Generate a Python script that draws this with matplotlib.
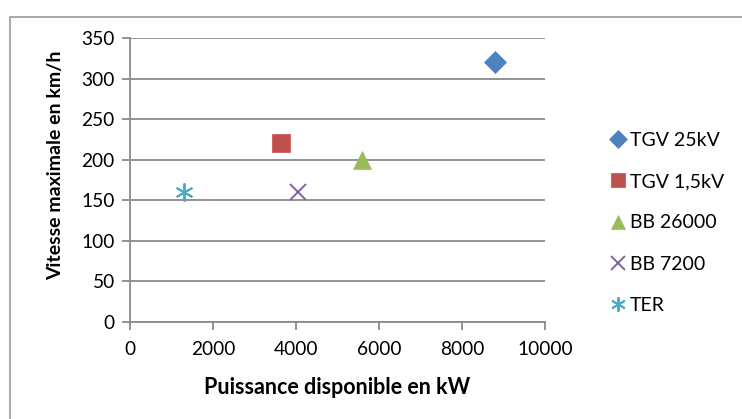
import matplotlib
matplotlib.use("Agg")
import matplotlib.pyplot as plt
from matplotlib.patches import Rectangle

series = ["TGV 25kV", "TGV 1,5kV", "BB 26000", "BB 7200", "TER"]
power_kw = [8800, 3650, 5600, 4050, 1300]
speed_kmh = [320, 220, 200, 160, 160]
colors = ["#4F81BD", "#C0504D", "#9BBB59", "#8064A2", "#4BACC6"]
markers = ["D", "s", "^", "x", (6, 2, 0)]
sizes = [11, 13, 13, 12, 13]
x_ticks = [0, 2000, 4000, 6000, 8000, 10000]
y_ticks = [0, 50, 100, 150, 200, 250, 300, 350]

plt.rcParams['font.family'] = ['Lato', 'DejaVu Sans']
W, H = 742, 419
fig = plt.figure(figsize=(W/100, H/100), dpi=100)
fig.patch.set_facecolor("white")

# outer chart border
fig.patches.append(Rectangle((10/W, -0.05), 1.2, 1 - 17/H + 0.05, transform=fig.transFigure,
                             fill=False, edgecolor="#9A9A9A", linewidth=1.2))

ax = fig.add_axes([130/W, 1 - 322/H, (545-130)/W, (322-38)/H])
for name, x, y, c, m, s in zip(series, power_kw, speed_kmh, colors, markers, sizes):
    line_marker = m == "x" or isinstance(m, tuple)
    ax.plot([x], [y], linestyle="none", marker=m, color=c, markersize=s,
            markeredgewidth=1.4 if line_marker else 0.5, markeredgecolor=c, label=name)

ax.set_xlim(0, 10000)
ax.set_ylim(0, 350)
ax.set_xticks(x_ticks)
ax.set_yticks(y_ticks)
ax.grid(axis="y", color="#8A8A8A", linewidth=1.3)
ax.set_axisbelow(True)
for s in ["top", "right"]:
    ax.spines[s].set_visible(False)
for s in ["left", "bottom"]:
    ax.spines[s].set_color("#8A8A8A")
    ax.spines[s].set_linewidth(1.3)
ax.tick_params(axis="both", colors="#8A8A8A", length=6, width=1.3, labelsize=13.8,
               labelcolor="black")
ax.tick_params(axis="x", pad=8)
ax.tick_params(axis="y", pad=5)

fig.text(337 / W, 1 - 387 / H, "Puissance disponible en kW", fontsize=15.5,
         fontweight="bold", ha="center", va="center")
fig.text(56 / W, 1 - 165 / H, "Vitesse maximale en km/h", fontsize=14,
         fontweight="bold", ha="center", va="center", rotation=90)

leg = fig.legend(loc="upper left", bbox_to_anchor=(603/W, 1 - 124/H), frameon=False,
                 fontsize=14, handlelength=0.7, handletextpad=0.3, labelspacing=1.25,
                 borderaxespad=0, markerscale=0.8)

fig.savefig("out.png", dpi=100)
